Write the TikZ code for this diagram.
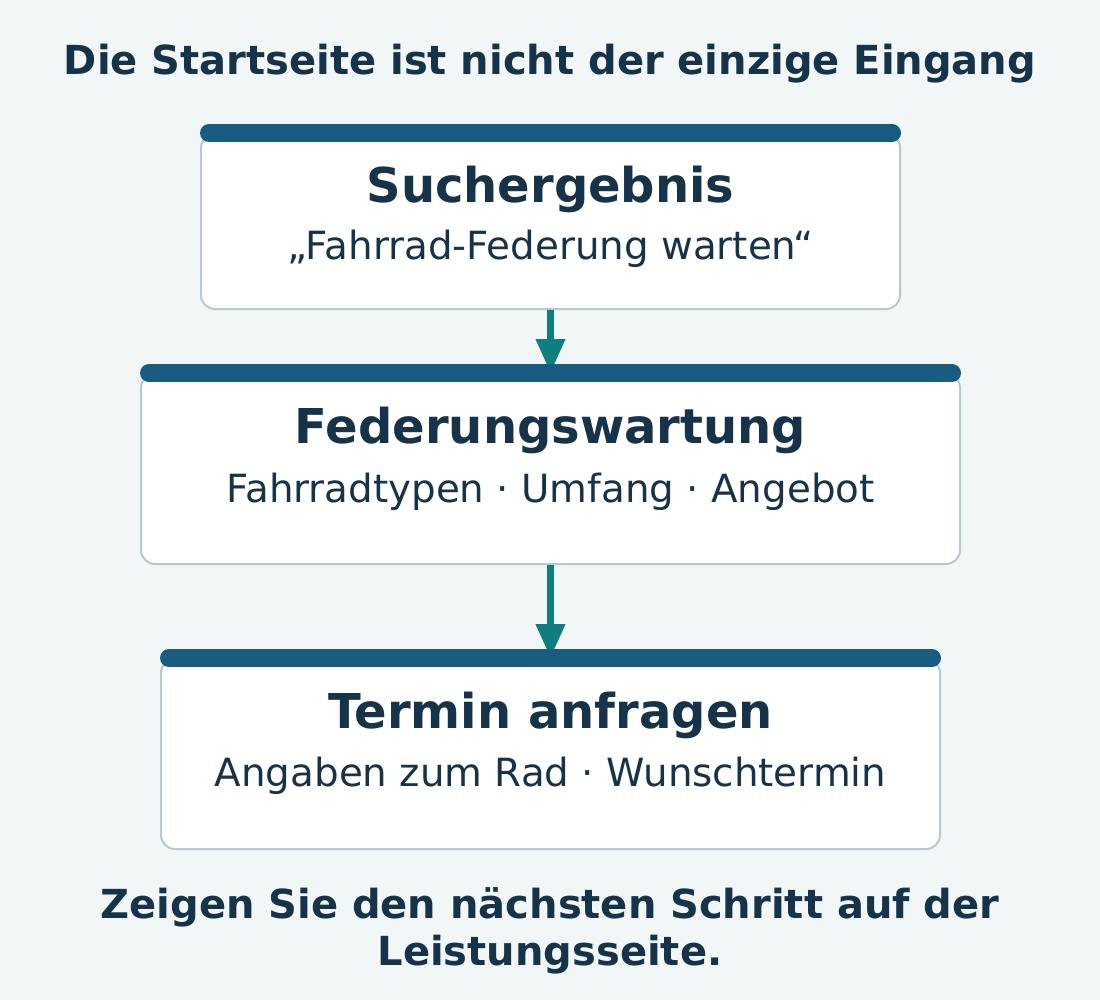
\documentclass[tikz,border=0pt]{standalone}
\usepackage{fontspec}
\setmainfont{DejaVu Sans}
\usetikzlibrary{calc,positioning,arrows.meta}

\definecolor{pagebg}{HTML}{F1F6F7}
\definecolor{ink}{HTML}{17334A}
\definecolor{barblue}{HTML}{195C82}
\definecolor{flowteal}{HTML}{0E7F7E}
\definecolor{cardedge}{HTML}{B5CAD0}

\begin{document}
\begin{tikzpicture}[x=1pt,y=-1pt,
    card/.style={draw=cardedge, line width=2pt, fill=white, rounded corners=14pt, inner sep=0pt},
    cardbar/.style={barblue, line width=18pt, line cap=round},
    headline/.style={text=ink, font=\bfseries\fontsize{48}{56}\selectfont, anchor=base},
    subline/.style={text=ink, font=\fontsize{38.8}{46}\selectfont, anchor=base},
    bigline/.style={text=ink, font=\bfseries\fontsize{40}{47}\selectfont, anchor=base, align=center},
    flow/.style={flowteal, line width=7pt, -{Triangle[width=28pt,length=34pt]}}]

      % Page
      \fill[pagebg] (0,0) rectangle (1100,1000);
      \useasboundingbox (0,0) rectangle (1100,1000);

      % Title
      \node[bigline] (title) at (550,75) {Die Startseite ist nicht der einzige Eingang};

      % Cards
      \node[card, minimum width=699pt, minimum height=175pt] (search) at (550.5,221.5) {};
      \node[card, minimum width=819pt, minimum height=190pt] (service) at (550.5,469) {};
      \node[card, minimum width=779pt, minimum height=190pt] (booking) at (550.5,754) {};

      % Arrows between the cards
      \draw[flow] (search.south) -- (service.north);
      \draw[flow] (service.south) -- (booking.north);

      % Bars on top of the cards
      \foreach \card in {search, service, booking} {
        \draw[cardbar] ($(\card.north west)+(9,0)$) -- ($(\card.north east)+(-9,0)$);
      }

      % Card texts
      \node[headline] (searchhead) at (550.5,203) {Suchergebnis};
      \node[subline] (searchsub) at (550.5,260) {„Fahrrad-Federung warten“};
      \node[headline] (servicehead) at (550.5,443) {Federungswartung};
      \node[subline] (servicesub) at (550.5,502) {Fahrradtypen · Umfang · Angebot};
      \node[headline] (bookinghead) at (550.5,728) {Termin anfragen};
      \node[subline] (bookingsub) at (550.5,786) {Angaben zum Rad · Wunschtermin};

      % Footer
      \node[bigline] (footer) at (550,965) {Zeigen Sie den nächsten Schritt auf der\\Leistungsseite.};
\end{tikzpicture}
\end{document}
